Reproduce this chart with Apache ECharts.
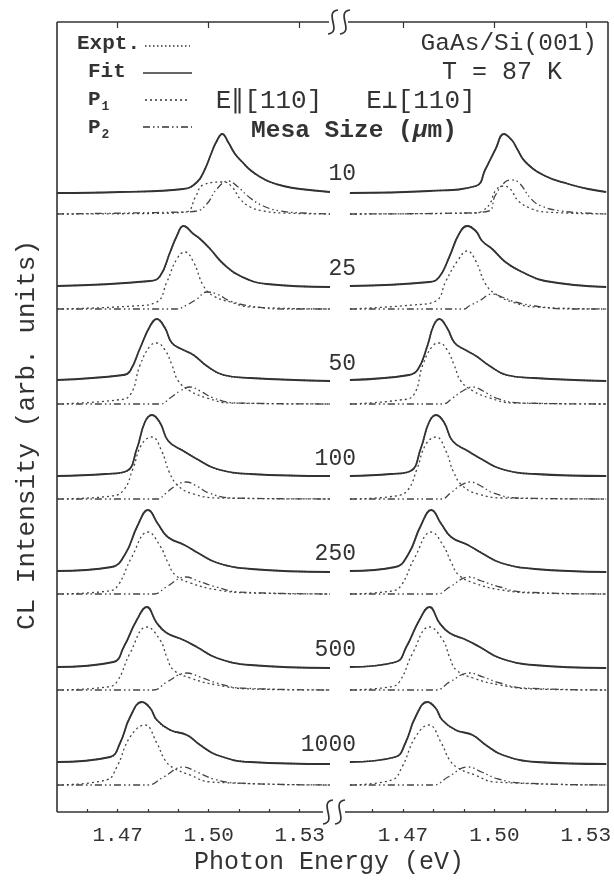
<!DOCTYPE html>
<html>
<head>
<meta charset="utf-8">
<script src="https://cdn.jsdelivr.net/npm/echarts@6/dist/echarts.min.js"></script>
<style>
  html, body { margin: 0; padding: 0; background: #ffffff; }
  #chart { width: 614px; height: 882px; }
</style>
</head>
<body>
<div id="chart"></div>
<script>
// Mesa sizes (µm), top to bottom
const mesaSizes = ['10', '25', '50', '100', '250', '500', '1000'];
// Vertical stacking offset of each spectrum (arb. units, component baseline)
const offsets = [598, 503, 408, 313, 218, 122, 27];

// Tick values along the energy axis (eV)
const tickValues = [1.46, 1.47, 1.48, 1.49, 1.50, 1.51, 1.52, 1.53];
const tickLabels = [1.47, 1.50, 1.53];

// ---- E || [110] : fit curve, peak P1, peak P2 ([energy eV, intensity]) ----
const fitPar = [
  [[1.450,21],[1.4708,22],[1.4916,25],[1.4962,32],[1.4988,45],[1.5008,60],[1.5025,72],[1.5045,80],[1.5064,72],[1.5087,60],[1.5111,52],[1.5137,44],[1.5170,37],[1.5203,32],[1.5246,28],[1.5302,25],[1.540,22]],
  [[1.450,23],[1.4807,28],[1.4840,33],[1.4873,57],[1.4895,73],[1.4917,83],[1.4950,75],[1.4972,70],[1.5005,60],[1.5049,45],[1.5104,33],[1.5192,25],[1.540,22]],
  [[1.450,24],[1.4719,29],[1.4741,33],[1.4774,56],[1.4807,78],[1.4829,85],[1.4856,76],[1.4879,61],[1.4917,54],[1.4950,49],[1.4994,38],[1.5049,29],[1.5137,26],[1.540,23]],
  [[1.450,23],[1.4660,25],[1.4730,28],[1.4763,50],[1.4790,77],[1.4813,84],[1.4840,76],[1.4867,58],[1.4917,48],[1.4961,40],[1.5027,30],[1.5137,25],[1.540,23]],
  [[1.450,23],[1.4680,27],[1.4725,40],[1.4765,68],[1.4800,84],[1.4833,70],[1.4865,57],[1.4920,49],[1.4965,41],[1.5030,31],[1.5140,25],[1.540,22]],
  [[1.450,23],[1.4686,28],[1.4720,43],[1.4763,70],[1.4796,83],[1.4829,67],[1.4862,57],[1.4917,50],[1.4961,43],[1.5027,32],[1.5137,25],[1.540,22]],
  [[1.450,23],[1.4675,28],[1.4708,42],[1.4741,68],[1.4780,83],[1.4807,77],[1.4829,65],[1.4873,55],[1.4928,50],[1.4972,40],[1.5027,30],[1.5137,23],[1.540,21]]
];
const p1Par = [
  [[1.450,0],[1.4800,0.5],[1.4925,2],[1.4958,18],[1.4981,29],[1.5049,32],[1.5077,27],[1.5104,15],[1.5137,7],[1.5180,3],[1.5246,1],[1.540,0]],
  [[1.450,0],[1.4752,3],[1.4829,7],[1.4862,27],[1.4895,50],[1.4922,57],[1.4950,47],[1.4983,23],[1.5016,13],[1.5071,7],[1.5137,2],[1.540,0]],
  [[1.450,0],[1.4697,4],[1.4741,9],[1.4774,39],[1.4807,58],[1.4829,61],[1.4856,54],[1.4879,39],[1.4900,23],[1.4939,13],[1.4994,6],[1.5071,1],[1.540,0]],
  [[1.450,0],[1.4680,3],[1.4720,9],[1.4750,30],[1.4780,55],[1.4813,62],[1.4845,48],[1.4870,27],[1.4900,13],[1.4950,5],[1.5030,1],[1.540,0]],
  [[1.450,0],[1.4670,3],[1.4700,8],[1.4745,36],[1.4800,62],[1.4840,48],[1.4865,32],[1.4890,19],[1.4940,11],[1.5030,4],[1.5140,1],[1.540,0]],
  [[1.450,0],[1.4665,3],[1.4697,8],[1.4741,37],[1.4796,63],[1.4840,50],[1.4862,33],[1.4884,20],[1.4939,12],[1.5027,5],[1.5137,1],[1.540,0]],
  [[1.450,0],[1.4663,5],[1.4697,18],[1.4741,48],[1.4790,60],[1.4829,42],[1.4856,25],[1.4884,17],[1.4939,10],[1.5005,3],[1.540,0]]
];
const p2Par = [
  [[1.450,0],[1.4916,2],[1.4961,3],[1.4994,10],[1.5027,25],[1.5065,33],[1.5093,28],[1.5137,16],[1.5180,8],[1.5236,3],[1.5312,1],[1.540,0]],
  [[1.450,0],[1.4893,0],[1.4928,4],[1.4961,10],[1.4994,17],[1.5027,15],[1.5071,8],[1.5137,3],[1.5246,0],[1.540,0]],
  [[1.450,0],[1.4840,0],[1.4873,6],[1.4906,13],[1.4939,17],[1.4972,13],[1.5016,6],[1.5093,1],[1.540,0]],
  [[1.450,0],[1.4830,0],[1.4860,6],[1.4890,13],[1.4925,17],[1.4960,13],[1.5000,6],[1.5080,1],[1.540,0]],
  [[1.450,0],[1.4820,0],[1.4860,7],[1.4925,17],[1.4965,13],[1.5025,7],[1.5100,2],[1.540,0]],
  [[1.450,0],[1.4818,0],[1.4862,8],[1.4928,17],[1.4972,13],[1.5027,7],[1.5104,2],[1.540,0]],
  [[1.450,0],[1.4800,0],[1.4851,8],[1.4917,18],[1.4961,13],[1.5016,6],[1.5093,2],[1.540,0]]
];

// ---- E ⊥ [110] : fit curve, peak P1, peak P2 ----
const fitPerp = [
  [[1.4526,21],[1.4787,23],[1.4939,28],[1.4971,45],[1.5004,65],[1.5031,80],[1.5057,74],[1.5073,66],[1.5102,52],[1.5167,38],[1.5243,30],[1.5308,25],[1.5367,22]],
  [[1.4526,23],[1.4787,27],[1.4819,32],[1.4852,52],[1.4884,75],[1.4911,83],[1.4939,78],[1.4960,68],[1.4993,60],[1.5036,47],[1.5091,37],[1.5167,28],[1.5367,22]],
  [[1.4526,24],[1.4720,29],[1.4750,35],[1.4780,58],[1.4800,78],[1.4819,85],[1.4845,76],[1.4870,61],[1.4905,54],[1.4940,48],[1.4985,38],[1.5040,29],[1.5130,26],[1.5367,23]],
  [[1.4526,23],[1.4660,25],[1.4725,28],[1.4758,50],[1.4786,77],[1.4809,84],[1.4836,76],[1.4863,58],[1.4913,48],[1.4957,40],[1.5023,30],[1.5133,25],[1.5367,23]],
  [[1.4526,23],[1.4675,27],[1.4718,40],[1.4758,68],[1.4793,84],[1.4826,70],[1.4858,57],[1.4913,49],[1.4958,41],[1.5023,31],[1.5133,25],[1.5367,22]],
  [[1.4526,23],[1.4677,28],[1.4711,43],[1.4754,70],[1.4787,83],[1.4820,67],[1.4853,57],[1.4908,50],[1.4952,43],[1.5018,32],[1.5128,25],[1.5367,22]],
  [[1.4526,23],[1.4675,28],[1.4708,42],[1.4741,68],[1.4780,83],[1.4807,77],[1.4829,65],[1.4873,55],[1.4928,50],[1.4972,40],[1.5027,30],[1.5137,23],[1.5367,21]]
];
const p1Perp = [
  [[1.4526,0],[1.4940,1],[1.4960,3],[1.4985,10],[1.5003,23],[1.5030,28],[1.5052,25],[1.5079,13],[1.5124,5],[1.5168,2],[1.5367,0]],
  [[1.4526,0],[1.4731,4],[1.4808,8],[1.4841,28],[1.4879,48],[1.4911,58],[1.4939,48],[1.4971,25],[1.5004,15],[1.5058,7],[1.5134,2],[1.5367,0]],
  [[1.4526,0],[1.4690,4],[1.4735,9],[1.4765,39],[1.4797,58],[1.4819,61],[1.4845,54],[1.4868,39],[1.4890,23],[1.4930,13],[1.4985,6],[1.5060,1],[1.5367,0]],
  [[1.4526,0],[1.4676,3],[1.4716,9],[1.4746,30],[1.4776,55],[1.4809,62],[1.4841,48],[1.4866,27],[1.4896,13],[1.4946,5],[1.5026,1],[1.5367,0]],
  [[1.4526,0],[1.4663,3],[1.4693,8],[1.4738,36],[1.4793,62],[1.4833,48],[1.4858,32],[1.4883,19],[1.4933,11],[1.5023,4],[1.5133,1],[1.5367,0]],
  [[1.4526,0],[1.4656,3],[1.4688,8],[1.4732,37],[1.4787,63],[1.4831,50],[1.4853,33],[1.4875,20],[1.4930,12],[1.5018,5],[1.5128,1],[1.5367,0]],
  [[1.4526,0],[1.4663,5],[1.4697,18],[1.4741,48],[1.4785,60],[1.4826,42],[1.4853,25],[1.4881,17],[1.4936,10],[1.5002,3],[1.5367,0]]
];
const p2Perp = [
  [[1.4526,0],[1.4900,1],[1.4982,3],[1.5002,18],[1.5035,32],[1.5055,34],[1.5078,32],[1.5121,15],[1.5154,8],[1.5219,3],[1.5300,1],[1.5367,0]],
  [[1.4526,0],[1.4901,0],[1.4917,3],[1.4950,8],[1.4993,15],[1.5025,12],[1.5069,7],[1.5134,3],[1.5243,0],[1.5367,0]],
  [[1.4526,0],[1.4830,0],[1.4863,6],[1.4896,13],[1.4930,17],[1.4963,13],[1.5005,6],[1.5085,1],[1.5367,0]],
  [[1.4526,0],[1.4826,0],[1.4856,6],[1.4886,13],[1.4921,17],[1.4956,13],[1.4996,6],[1.5076,1],[1.5367,0]],
  [[1.4526,0],[1.4813,0],[1.4853,7],[1.4918,17],[1.4958,13],[1.5018,7],[1.5093,2],[1.5367,0]],
  [[1.4526,0],[1.4809,0],[1.4853,8],[1.4919,17],[1.4963,13],[1.5018,7],[1.5095,2],[1.5367,0]],
  [[1.4526,0],[1.4800,0],[1.4848,8],[1.4914,18],[1.4958,13],[1.5013,6],[1.5090,2],[1.5367,0]]
];

const INK = '#333333';
const MONO = '"Liberation Mono", "DejaVu Sans Mono", monospace';

const chart = echarts.init(document.getElementById('chart'), null, { renderer: 'canvas' });

function shift(points, off) {
  return points.map(p => [p[0], p[1] + off]);
}

const fitStyle  = { color: INK, width: 1.8, type: 'solid' };
const exptStyle = { color: INK, width: 1.4, type: 'dotted' };
const p1Style   = { color: '#444', width: 1.3, type: [2, 3] };
const p2Style   = { color: '#444', width: 1.3, type: [7, 3, 1.5, 3, 1.5, 3] };

const series = [];
const panels = [
  { fit: fitPar,  p1: p1Par,  p2: p2Par },
  { fit: fitPerp, p1: p1Perp, p2: p2Perp }
];
panels.forEach((panel, pi) => {
  mesaSizes.forEach((size, i) => {
    const base = { type: 'line', xAxisIndex: pi, yAxisIndex: pi, showSymbol: false,
                   smooth: 0.45, silent: true, animation: false };
    series.push(Object.assign({}, base, { name: 'P1', data: shift(panel.p1[i], offsets[i]), lineStyle: p1Style }));
    series.push(Object.assign({}, base, { name: 'P2', data: shift(panel.p2[i], offsets[i]), lineStyle: p2Style }));
    series.push(Object.assign({}, base, { name: 'Fit', data: shift(panel.fit[i], offsets[i]), lineStyle: fitStyle }));
    series.push(Object.assign({}, base, { name: 'Expt.', data: shift(panel.fit[i], offsets[i]), lineStyle: exptStyle }));
  });
});

const gridTop = 22, gridH = 790;
const grids = [
  { left: 57, top: gridTop, width: 273, height: gridH },
  { left: 342, top: gridTop, width: 266, height: gridH }
];
const xRanges = [[1.45, 1.54], [1.45, 1.5367]];

const xAxes = [];
xRanges.forEach((r, gi) => {
  // minor ticks + labels
  xAxes.push({
    type: 'value', gridIndex: gi, min: r[0], max: r[1],
    axisLine: { show: false }, splitLine: { show: false },
    axisTick: { show: true, inside: true, length: 3, customValues: tickValues,
                lineStyle: { color: INK, width: 1.2 } },
    axisLabel: { show: true, customValues: tickLabels, margin: 13,
                 formatter: v => v.toFixed(2),
                 fontFamily: MONO, fontSize: 21, color: INK }
  });
});
xRanges.forEach((r, gi) => {
  // longer ticks at labelled values
  xAxes.push({
    type: 'value', gridIndex: gi, min: r[0], max: r[1],
    axisLine: { show: false }, splitLine: { show: false },
    axisTick: { show: true, inside: true, length: 6, customValues: tickLabels,
                lineStyle: { color: INK, width: 1.2 } },
    axisLabel: { show: false }
  });
});

const yAxes = [0, 1].map(gi => ({
  type: 'value', gridIndex: gi, min: 0, max: gridH, show: false
}));

chart.setOption({
  backgroundColor: '#ffffff',
  animation: false,
  grid: grids,
  xAxis: xAxes,
  yAxis: yAxes,
  series: series
});

// Axis-break mark: two S strokes centred at (cx, cy)
function breakMark(cx, cy) {
  const s = (x) => ({
    type: 'bezierCurve',
    shape: { x1: x + 5, y1: cy - 12, cpx1: x - 10, cpy1: cy - 10,
             cpx2: x + 10, cpy2: cy + 10, x2: x - 5, y2: cy + 12 },
    style: { stroke: INK, lineWidth: 1.7, fill: null }
  });
  return [s(cx - 6), s(cx + 6)];
}

function line(x1, y1, x2, y2, extra) {
  return { type: 'line', shape: { x1, y1, x2, y2 },
           style: Object.assign({ stroke: INK, lineWidth: 1.6 }, extra || {}) };
}

function text(str, x, y, opts) {
  return { type: 'text', x, y,
           style: Object.assign({ text: str, fill: INK, font: '21px ' + MONO,
                                  align: 'left', verticalAlign: 'middle' }, opts || {}) };
}

const graphics = [];
// frame
graphics.push(line(57, 22, 57, 812));
graphics.push(line(608, 22, 608, 812));
graphics.push(line(57, 22, 329, 22));
graphics.push(line(348, 22, 608, 22));
graphics.push(line(57, 812, 323, 812));
graphics.push(line(345, 812, 608, 812));
graphics.push(...breakMark(339, 22));
graphics.push(...breakMark(334, 812));

// legend
graphics.push(text('Expt.', 77, 44, { font: 'bold 21px ' + MONO }));
graphics.push(line(145, 46, 190, 46, { lineDash: [1.5, 2.5], lineWidth: 1.3 }));
graphics.push(text('Fit', 88, 72, { font: 'bold 21px ' + MONO }));
graphics.push(line(143, 73, 192, 73, { lineWidth: 1.6 }));
graphics.push({ type: 'text', x: 88, y: 100, style: {
  rich: { b: { font: 'bold 21px ' + MONO, fill: INK },
          s: { font: 'bold 13px ' + MONO, fill: INK, padding: [14, 0, 0, 1] } },
  text: '{b|P}{s|1}', verticalAlign: 'middle' } });
graphics.push(line(145, 100, 190, 100, { lineDash: [2, 3], lineWidth: 1.3 }));
graphics.push({ type: 'text', x: 88, y: 128, style: {
  rich: { b: { font: 'bold 21px ' + MONO, fill: INK },
          s: { font: 'bold 13px ' + MONO, fill: INK, padding: [14, 0, 0, 1] } },
  text: '{b|P}{s|2}', verticalAlign: 'middle' } });
graphics.push(line(143, 127, 192, 127, { lineDash: [7, 3, 1.5, 3, 1.5, 3], lineWidth: 1.3 }));

// annotations
graphics.push(text('GaAs/Si(001)', 597, 44, { align: 'right', font: '24.5px ' + MONO }));
graphics.push(text('T = 87 K', 502, 72, { align: 'center', font: '25px ' + MONO }));
graphics.push(text('E\u2225[110]', 269, 101, { align: 'center', font: '26px ' + MONO }));
graphics.push(text('E\u22a5[110]', 421, 101, { align: 'center', font: '26px ' + MONO }));
graphics.push({ type: 'text', x: 354, y: 131, style: {
  rich: { a: { font: 'bold 24.5px ' + MONO, fill: INK },
          m: { font: 'italic bold 24.5px ' + MONO, fill: INK } },
  text: '{a|Mesa Size (}{m|\u03bc}{a|m)}', align: 'center', verticalAlign: 'middle' } });

// mesa size labels beside each spectrum pair
mesaSizes.forEach((size, i) => {
  const py = chart.convertToPixel({ yAxisIndex: 0 }, offsets[i] + 40);
  graphics.push(text(size, 356, py, { align: 'right', font: '23px ' + MONO }));
});

// axis titles
graphics.push(text('Photon Energy (eV)', 329, 862, { align: 'center', font: '25px ' + MONO }));
graphics.push({ type: 'text', x: 27, y: 435, rotation: Math.PI / 2,
  style: { text: 'CL Intensity (arb. units)', fill: INK, font: '26px ' + MONO,
           align: 'center', verticalAlign: 'middle' } });

chart.setOption({ graphic: graphics });
</script>
</body>
</html>
